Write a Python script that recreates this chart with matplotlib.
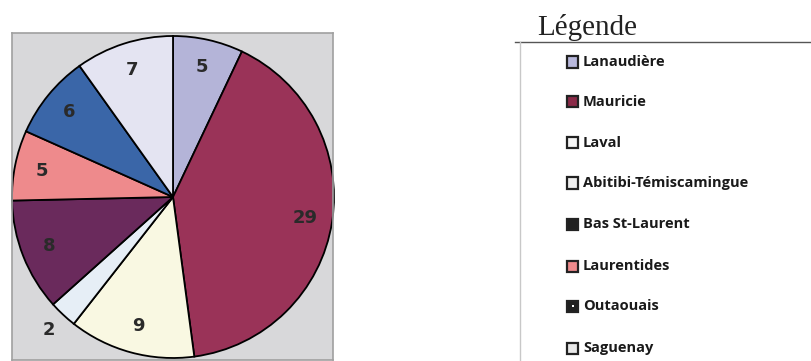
import matplotlib.pyplot as plt
import numpy as np
from matplotlib.patches import Rectangle

# regions, counts and colours (clockwise from 12 o'clock)
regions = ["Lanaudière", "Mauricie", "Laval", "Abitibi-Témiscamingue",
           "Bas St-Laurent", "Laurentides", "Outaouais", "Saguenay"]
counts = [5, 29, 9, 2, 8, 5, 6, 7]
pie_colors = ["#b4b4d8", "#9a3358", "#f9f8e2", "#e6eef6",
              "#6a2a5c", "#ee8a8c", "#3a66a8", "#e4e4f2"]
legend_colors = ["#b8b8dc", "#8a2a48", "#f4f4f4", "#eeeeee",
                 "#202020", "#ee8a8c", "#202020", "#e8e8e8"]

W, H = 811, 361
fig = plt.figure(figsize=(W / 100, H / 100), dpi=100)

# pie in a grey plot box, data units = pixels, centre at (173, 197)
cx, cy, r = 173, 197, 161
x0, x1, y0, y1 = 12, 333, 33, 360
ax = fig.add_axes([x0 / W, 1 - y1 / H, (x1 - x0) / W, (y1 - y0) / H])
wedges, _ = ax.pie(counts, colors=pie_colors, radius=r, startangle=90,
                   counterclock=False,
                   wedgeprops=dict(edgecolor="black", linewidth=1.3))
ax.set_xlim(x0 - cx, x1 - cx)
ax.set_ylim(cy - y1, cy - y0)
ax.set_aspect("auto")
ax.set_frame_on(True)
ax.set_facecolor("#d8d8da")
for s in ax.spines.values():
    s.set_color("#a0a0a0")
    s.set_linewidth(1.2)

# value labels
for w, v in zip(wedges, counts):
    ang = np.deg2rad((w.theta1 + w.theta2) / 2)
    d = 1.13 if v <= 2 else 0.83
    ax.text(d * r * np.cos(ang), d * r * np.sin(ang), str(v),
            ha="center", va="center", fontsize=13, fontweight="bold",
            color="#2a2a2a")

# legend
fig.text(537 / W, 1 - 35 / H, "Légende", family="Liberation Serif",
         fontsize=21, color="#222222", ha="left", va="baseline")
fig.add_artist(plt.Line2D([515 / W, 1], [1 - 42 / H] * 2,
                          color="#555555", linewidth=1.0))
fig.add_artist(plt.Line2D([520 / W] * 2, [0, 1 - 42 / H],
                          color="#c8c8c8", linewidth=1.0))

row_y = [62, 102, 143, 183, 224, 266, 306, 348]
for name, col, yy in zip(regions, legend_colors, row_y):
    fig.add_artist(Rectangle((567 / W, 1 - (yy + 5.5) / H), 11 / W, 11 / H,
                             facecolor=col, edgecolor="#222222",
                             linewidth=1.6))
    if name == "Outaouais":
        fig.add_artist(Rectangle((571.5 / W, 1 - (yy + 1) / H), 2 / W, 2 / H,
                                 facecolor="white", edgecolor="none"))
    fig.text(583 / W, 1 - yy / H, name, family="Open Sans",
             fontweight="bold", fontsize=10.5, color="#1a1a1a",
             ha="left", va="center")

fig.savefig("out.png", dpi=100)
